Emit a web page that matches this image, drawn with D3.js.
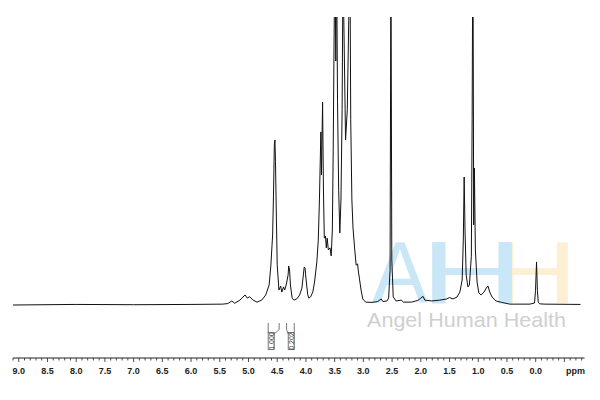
<!DOCTYPE html>
<html>
<head>
<meta charset="utf-8">
<script src="https://cdn.jsdelivr.net/npm/d3@7/dist/d3.min.js"></script>
<style>
  html, body { margin: 0; padding: 0; background: #fff; }
  svg { display: block; }
</style>
</head>
<body>
<svg id="chart" width="600" height="400"></svg>
<script>
// ---- data: 1H NMR spectrum, [chemical shift (ppm), relative intensity (% of plot height)] ----
const spectrum = [
  [9.10, 0], [8.00, 0.2], [7.00, 0.1], [6.00, 0.2], [5.45, 0.3], [5.36, 0.5], [5.29, 1.4], [5.24, 0.6],
  [5.15, 1.7], [5.06, 3.5], [5.02, 2.4], [4.98, 2.9], [4.92, 1.7], [4.85, 1.0], [4.77, 1.7], [4.70, 3.5],
  [4.64, 7.0], [4.61, 13.9], [4.58, 24.4], [4.565, 38], [4.55, 55.7], [4.54, 57.5], [4.53, 50], [4.515, 31],
  [4.50, 14], [4.47, 5.2], [4.44, 6.6], [4.42, 4.5], [4.39, 6.3], [4.37, 5.2], [4.34, 7.3], [4.31, 10.5],
  [4.30, 13.6], [4.285, 12.2], [4.27, 7.0], [4.24, 2.4], [4.21, 1.7], [4.16, 2.1], [4.11, 3.5], [4.07, 5.9],
  [4.045, 10.5], [4.03, 13.2], [4.015, 12.9], [4.00, 9.4], [3.97, 3.8], [3.95, 2.4], [3.92, 2.8], [3.88, 4.5],
  [3.85, 8.0], [3.81, 15.0], [3.785, 22.6], [3.765, 36.6], [3.74, 60.3], [3.73, 45.3], [3.71, 70.7], [3.695, 40.1],
  [3.68, 23.3], [3.66, 24.0], [3.645, 19.9], [3.63, 23.3], [3.61, 19.2], [3.58, 19.9], [3.56, 17.1], [3.54, 26.1],
  [3.525, 54], [3.51, 92], [3.495, 124], [3.48, 85], [3.465, 120], [3.45, 71], [3.43, 40], [3.41, 25.1],
  [3.39, 36.6], [3.37, 68], [3.355, 117], [3.335, 92], [3.31, 57.5], [3.28, 68], [3.255, 99], [3.235, 127],
  [3.22, 64.5], [3.20, 36.6], [3.18, 26.8], [3.15, 19.2], [3.125, 13.9], [3.10, 14.3], [3.09, 12.2], [3.07, 9.4],
  [3.04, 5.2], [3.01, 2.1], [2.96, 1.0], [2.85, 0.9], [2.75, 1.2], [2.69, 2.1], [2.66, 1.2], [2.59, 1.4],
  [2.56, 2.4], [2.535, 12], [2.52, 124], [2.505, 15.7], [2.48, 2.8], [2.43, 1.4], [2.34, 1.7], [2.30, 1.0],
  [2.16, 1.0], [2.05, 1.6], [2.00, 2.4], [1.96, 3.0], [1.93, 1.7], [1.81, 1.4], [1.67, 1.7], [1.55, 2.1],
  [1.50, 2.6], [1.44, 2.1], [1.37, 2.8], [1.32, 4.5], [1.28, 8.7], [1.26, 22.6], [1.245, 44.6], [1.23, 26.1],
  [1.21, 10.5], [1.18, 6.3], [1.154, 7.0], [1.12, 17], [1.106, 65], [1.093, 134], [1.079, 27.9], [1.067, 47.7],
  [1.05, 19.2], [1.02, 8.0], [0.99, 4.2], [0.95, 3.5], [0.90, 4.5], [0.86, 5.9], [0.83, 6.6], [0.80, 4.5],
  [0.76, 2.8], [0.69, 1.4], [0.59, 0.9], [0.45, 0.3], [0.10, 0.3], [0.02, 0.7], [0.003, 5], [-0.015, 15],
  [-0.03, 5], [-0.045, 1.0], [-0.07, 0.4], [-0.16, 0.3], [-0.78, 0.2]
];

// integrals: [start ppm, end ppm, label]
const integralRanges = [[4.657, 4.466], [4.337, 4.204]];
const integralLabels = ["1.000", "0.202"];

// axis tick labels
const tickValues = [9.0, 8.5, 8.0, 7.5, 7.0, 6.5, 6.0, 5.5, 5.0, 4.5, 4.0, 3.5, 3.0, 2.5, 2.0, 1.5, 1.0, 0.5, 0.0];
const axisUnit = "ppm";

// watermark texts
const logoLetters = ["A", "H", "H"];
const logoCaption = "Angel Human Health";

// ---- drawing ----
const svg = d3.select("#chart");

const x = d3.scaleLinear().domain([9.1, -0.85]).range([13, 584.5]);
const y = d3.scaleLinear().domain([0, 100]).range([305, 18]);

// watermark (behind the spectrum)
const wm = svg.append("g").attr("class", "watermark");
const fontLogo = "'Liberation Sans', Arial, sans-serif";
// yellow H (drawn first, partly hidden by blue H)
wm.append("text").text(logoLetters[2])
  .attr("transform", "translate(492.6,303) scale(1.336,1)")
  .attr("font-family", fontLogo).attr("font-size", 88).attr("fill", "#fcefd3");
wm.append("text").text(logoLetters[0])
  .attr("transform", "translate(372,303) scale(0.95,1)")
  .attr("font-family", fontLogo).attr("font-size", 88).attr("fill", "#c9e7f7");
wm.append("text").text(logoLetters[1])
  .attr("transform", "translate(420.6,303) scale(1.62,1)")
  .attr("font-family", fontLogo).attr("font-size", 88).attr("fill", "#c9e7f7");
wm.append("text").text(logoCaption)
  .attr("x", 367).attr("y", 327)
  .attr("textLength", 199).attr("lengthAdjust", "spacingAndGlyphs")
  .attr("font-family", fontLogo).attr("font-size", 21).attr("fill", "#cfcfcf");

// clip so tall peaks are cut at the top of the plot
svg.append("defs").append("clipPath").attr("id", "plotclip")
  .append("rect").attr("x", 0).attr("y", 17).attr("width", 600).attr("height", 300);

const line = d3.line()
  .x(d => x(d[0]))
  .y(d => y(d[1]))
  .curve(d3.curveLinear);

svg.append("path")
  .datum(spectrum)
  .attr("clip-path", "url(#plotclip)")
  .attr("d", line)
  .attr("fill", "none")
  .attr("stroke", "#111")
  .attr("stroke-width", 1)
  .attr("stroke-linejoin", "round");

// integrals
const ig = svg.append("g").attr("class", "integrals")
  .attr("stroke", "#555").attr("stroke-width", 0.8).attr("fill", "none");
integralRanges.forEach((r, i) => {
  const xa = x(r[0]), xb = x(r[1]);
  const boxW = 6, boxTop = 332.5, boxBot = 349.5;
  let bx;
  if (i === 0) {
    bx = xa; // box flush with left marker
    ig.append("path").attr("d", `M${xa},323 L${xa},${boxTop}`);
    ig.append("path").attr("d", `M${xb},323 L${xb},329.5 L${bx + boxW},${boxTop + 1.5}`);
  } else {
    bx = xb - boxW; // box flush with right marker
    ig.append("path").attr("d", `M${xb},323 L${xb},${boxTop}`);
    ig.append("path").attr("d", `M${xa},323 L${xa},329.5 L${bx},${boxTop + 1.5}`);
  }
  ig.append("rect").attr("x", bx).attr("y", boxTop).attr("width", boxW).attr("height", boxBot - boxTop);
  svg.append("text")
    .attr("transform", `translate(${bx + boxW / 2 + 2.4},${(boxTop + boxBot) / 2}) rotate(-90)`)
    .attr("text-anchor", "middle")
    .attr("font-family", "'Liberation Sans', Arial, sans-serif")
    .attr("font-size", 7)
    .attr("fill", "#333")
    .text(integralLabels[i]);
});

// x axis
const axisY = 358;
const minorTicks = d3.range(-8, 92).map(v => v / 10);
const axisG = svg.append("g").attr("transform", `translate(0,${axisY})`);
axisG.append("line").attr("x1", x(9.1)).attr("x2", x(-0.85)).attr("y1", 0).attr("y2", 0)
  .attr("stroke", "#222").attr("stroke-width", 1);
axisG.selectAll("line.minor").data(minorTicks).join("line").attr("class", "minor")
  .attr("x1", d => x(d)).attr("x2", d => x(d))
  .attr("y1", 0).attr("y2", d => (Math.round(d * 10) % 5 === 0 ? 4 : 2.5))
  .attr("stroke", "#222").attr("stroke-width", 0.8);
axisG.selectAll("text.tick").data(tickValues).join("text").attr("class", "tick")
  .attr("x", d => x(d)).attr("y", 16)
  .attr("text-anchor", "middle")
  .attr("font-family", "'Liberation Sans', Arial, sans-serif")
  .attr("font-size", 9).attr("font-weight", "bold").attr("fill", "#222")
  .text(d => d.toFixed(1));
axisG.append("text")
  .attr("x", 575.5).attr("y", 16).attr("text-anchor", "middle")
  .attr("font-family", "'Liberation Sans', Arial, sans-serif")
  .attr("font-size", 9).attr("font-weight", "bold").attr("fill", "#222")
  .text(axisUnit);
</script>
</body>
</html>
